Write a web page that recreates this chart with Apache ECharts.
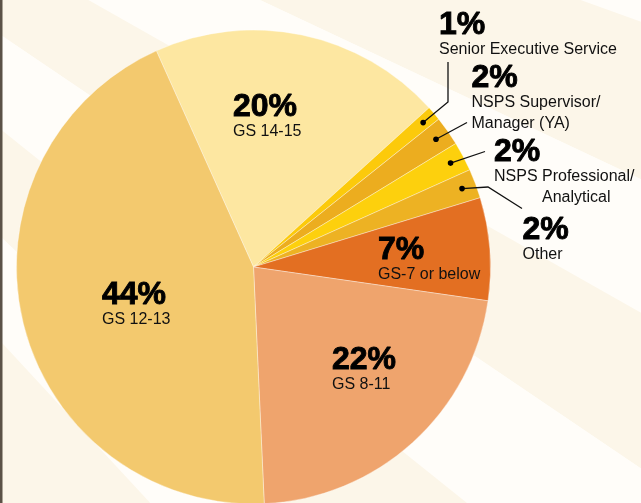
<!DOCTYPE html>
<html>
<head>
<meta charset="utf-8">
<script src="https://cdn.jsdelivr.net/npm/echarts@6/dist/echarts.min.js"></script>
<style>
html, body { margin: 0; padding: 0; background: #fffdf9; }
#chart { width: 641px; height: 503px; }
</style>
</head>
<body>
<div id="chart"></div>
<script>
var categories = ['GS 14-15', 'Senior Executive Service', 'NSPS Supervisor/\nManager (YA)',
    'NSPS Professional/\nAnalytical', 'Other', 'GS-7 or below', 'GS 8-11', 'GS 12-13'];
var shares = [20, 1, 2, 2, 2, 7, 22, 44];
var sliceColors = ['#fde7a1', '#fcca0b', '#ecad1f', '#fdd00d', '#edb223', '#e36f22', '#efa46d', '#f3c96e'];

// top-left corner of each label block, and the bends of the leader lines
var labelPos = [[233, 93], [439, 11], [471.5, 64.5], [494, 138], [522.5, 216], [378, 236], [332, 346], [102, 281]];
var leaderBends = [null, [[448, 102], [448, 62]], [[467, 122.5]], [[485, 151.5]], [[488, 187], [522, 208.5]], null, null, null];

// background rays: edges in degrees below horizontal, seen from a point off the top-left corner
var rayEdges = [0, 19.7, 25.2, 29.5, 34.1, 38.7, 43.3, 47.2, 60, 360];

var CX = 253.5, CY = 267, R = 237;

var chart = echarts.init(document.getElementById('chart'));

var rays = [];
for (var i = 0; i < rayEdges.length - 1; i++) {
    rays.push({
        value: rayEdges[i + 1] - rayEdges[i],
        itemStyle: { color: i % 2 ? '#fcf6e9' : '#fffdf9' }
    });
}

var slices = [];
for (var i = 0; i < categories.length; i++) {
    slices.push({
        name: categories[i],
        value: shares[i],
        itemStyle: { color: sliceColors[i] }
    });
}

var option = {
    backgroundColor: '#fffdf9',
    animation: false,
    textStyle: { fontFamily: 'Liberation Sans' },
    series: [{
        type: 'pie',
        silent: true,
        center: [-760, -480],
        radius: 1800,
        startAngle: 0,
        clockwise: true,
        label: { show: false },
        labelLine: { show: false },
        data: rays
    }, {
        type: 'pie',
        center: [CX, CY],
        radius: R,
        startAngle: 114.2,
        clockwise: true,
        avoidLabelOverlap: false,
        itemStyle: { borderColor: 'rgba(255,255,255,0.6)', borderWidth: 0.6 },
        labelLine: { show: false },
        label: {
            position: 'outside',
            width: 220,
            overflow: 'none',
            formatter: function (p) {
                var lines = p.name.split('\n');
                var s = '{p|' + p.value + '%}';
                for (var k = 0; k < lines.length; k++) {
                    var st = (k > 0 && p.name.indexOf('Analytical') >= 0) ? 'a' : 'n';
                    s += '\n{' + st + '|' + lines[k] + '}';
                }
                return s;
            },
            rich: {
                p: { fontSize: 32, fontWeight: 'bold', lineHeight: 28, color: '#000',
                     textBorderColor: '#000', textBorderWidth: 0.9 },
                n: { fontSize: 16, lineHeight: 21, color: '#111' },
                a: { fontSize: 16, lineHeight: 21, color: '#111', padding: [0, 0, 0, 48] }
            }
        },
        labelLayout: function (p) {
            var i = p.dataIndex;
            return { x: labelPos[i][0], y: labelPos[i][1], align: 'left', verticalAlign: 'top' };
        },
        data: slices
    }]
};
chart.setOption(option);

// leader lines with a dot inside each small slice, placed from the pie's own layout
var pieData = chart.getModel().getSeriesByIndex(1).getData();
var marks = [{
    type: 'rect', left: 0, top: 0, z: 100,
    shape: { width: 2.5, height: 503 },
    style: { fill: '#5b5247' }
}];
for (var i = 0; i < categories.length; i++) {
    if (!leaderBends[i]) continue;
    var lay = pieData.getItemLayout(i);
    var mid = (lay.startAngle + lay.endAngle) / 2;
    var rd = lay.r * 0.94;
    var dot = [lay.cx + rd * Math.cos(mid), lay.cy + rd * Math.sin(mid)];
    marks.push({
        type: 'polyline', z: 100,
        shape: { points: [dot].concat(leaderBends[i]) },
        style: { stroke: '#111', lineWidth: 1.3, fill: null }
    });
    marks.push({
        type: 'circle', z: 101,
        shape: { cx: dot[0], cy: dot[1], r: 2.8 },
        style: { fill: '#000' }
    });
}
chart.setOption({ graphic: marks });
</script>
</body>
</html>
